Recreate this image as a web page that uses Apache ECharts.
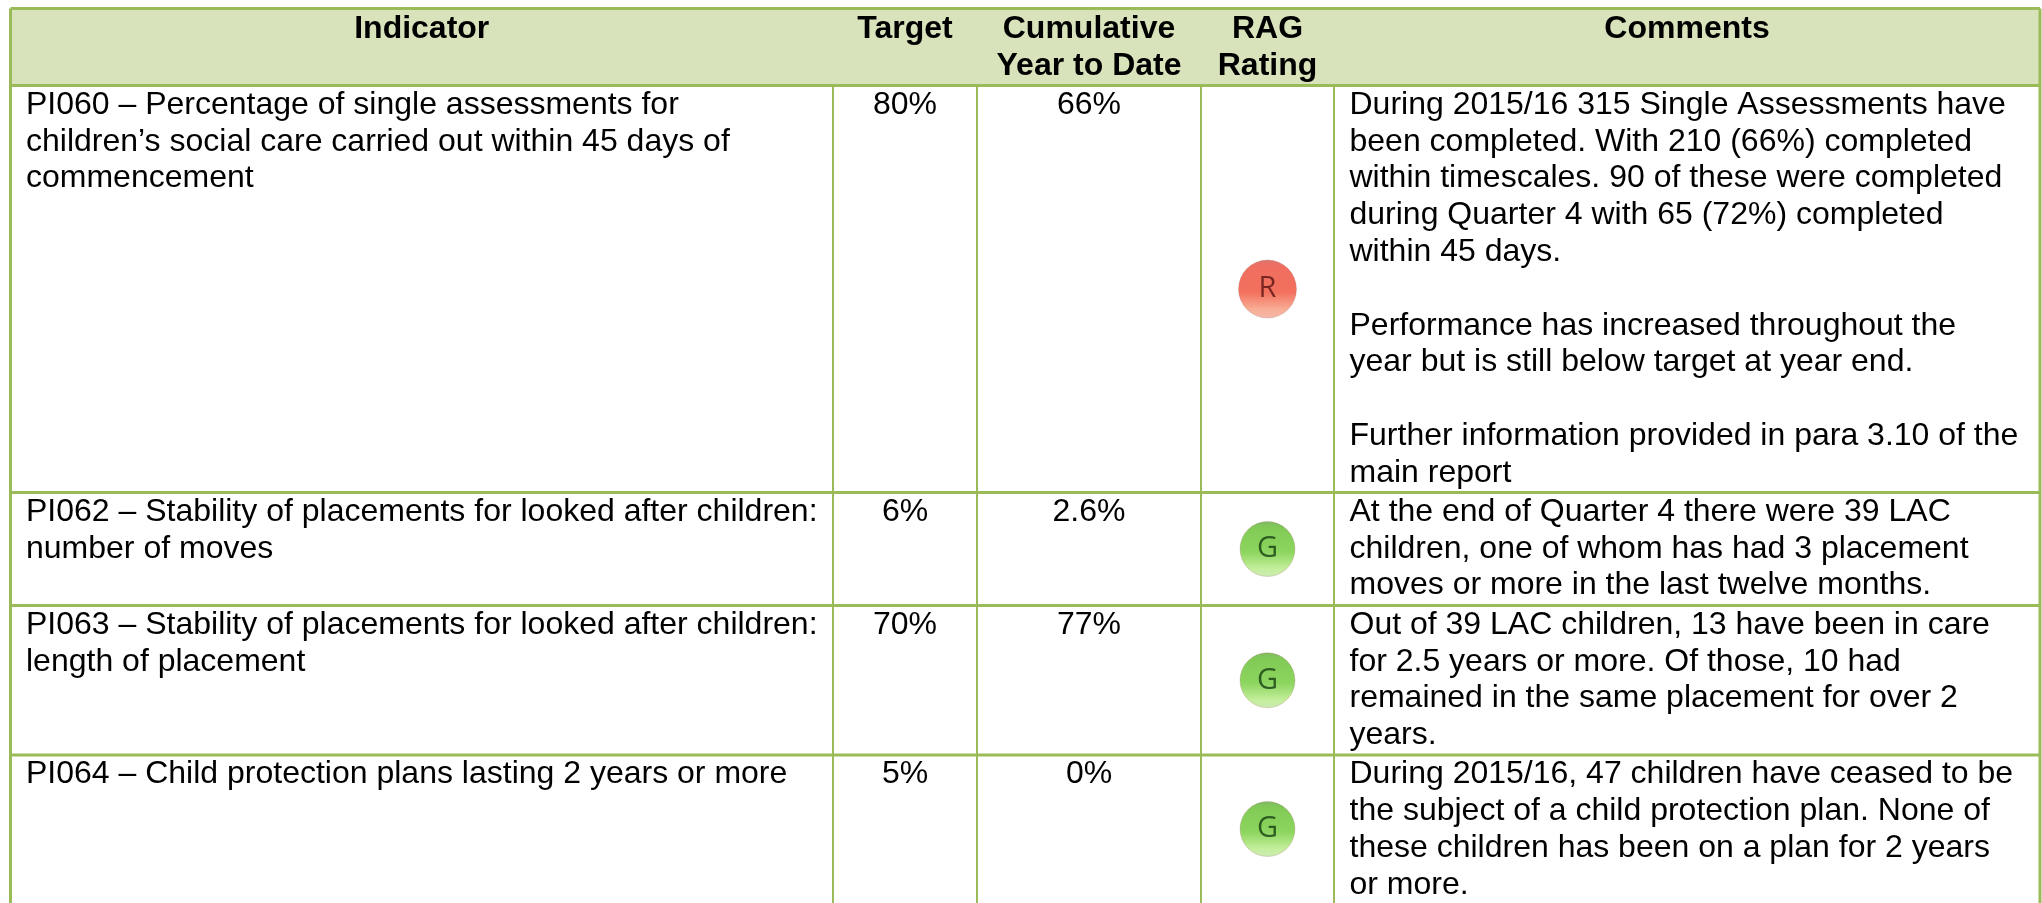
<!DOCTYPE html>
<html>
<head>
<meta charset="utf-8">
<script src="https://cdn.jsdelivr.net/npm/echarts@6/dist/echarts.min.js"></script>
<style>
html, body { margin: 0; padding: 0; background: #fff; }
#main { width: 2042px; height: 903px; }
</style>
</head>
<body>
<div id="main"></div>
<script>
var headers = [
    'Indicator',
    'Target',
    'Cumulative\nYear to Date',
    'RAG\nRating',
    'Comments'
]

var indicators = [
    'PI060 – Percentage of single assessments for\nchildren’s social care carried out within 45 days of\ncommencement',
    'PI062 – Stability of placements for looked after children:\nnumber of moves',
    'PI063 – Stability of placements for looked after children:\nlength of placement',
    'PI064 – Child protection plans lasting 2 years or more'
]

var targets = ['80%', '6%', '70%', '5%']
var cumulative = ['66%', '2.6%', '77%', '0%']
var ratings = ['R', 'G', 'G', 'G']

var comments = [
    'During 2015/16 315 Single Assessments have\nbeen completed. With 210 (66%) completed\nwithin timescales. 90 of these were completed\nduring Quarter 4 with 65 (72%) completed\nwithin 45 days.\n\nPerformance has increased throughout the\nyear but is still below target at year end.\n\nFurther information provided in para 3.10 of the\nmain report',
    'At the end of Quarter 4 there were 39 LAC\nchildren, one of whom has had 3 placement\nmoves or more in the last twelve months.',
    'Out of 39 LAC children, 13 have been in care\nfor 2.5 years or more. Of those, 10 had\nremained in the same placement for over 2\nyears.',
    'During 2015/16, 47 children have ceased to be\nthe subject of a child protection plan. None of\nthese children has been on a plan for 2 years\nor more.'
]

// table layout, in axis units (the axes are 1:1 with the canvas)
var col_edges = [10.5, 833, 977, 1201, 1334, 2040]
var row_edges = [8.5, 85.5, 492.5, 605.5, 755, 903]
var line_height = 36.8
var pad_left = 15.5
var font_name = '"Liberation Sans", Arial, sans-serif'
var border_color = '#9bbb59'

function mid(a, i) {
    return (a[i] + a[i + 1]) / 2
}

// cells of text: x, y, string, alignment
var cells = []
headers.forEach(function(h, c) {
    cells.push({ value: [mid(col_edges, c), row_edges[0] + 2.5], text: h, align: 'center', bold: true })
})
indicators.forEach(function(t, r) {
    var top = row_edges[r + 1] + 1
    cells.push({ value: [col_edges[0] + pad_left, top], text: t, align: 'left' })
    cells.push({ value: [mid(col_edges, 1), top], text: targets[r], align: 'center' })
    cells.push({ value: [mid(col_edges, 2), top], text: cumulative[r], align: 'center' })
    cells.push({ value: [col_edges[4] + pad_left, top], text: comments[r], align: 'left' })
})

// border segments as [x1, y1, x2, y2, width]
var borders = []
row_edges.slice(0, 5).forEach(function(y) {
    borders.push([col_edges[0], y, col_edges[5], y, 3])
})
col_edges.forEach(function(x, i) {
    var outer = i === 0 || i === 5
    borders.push([x, outer ? row_edges[0] : row_edges[1], x, row_edges[5], outer ? 3 : 2])
})

var badge_fill = {
    R: new echarts.graphic.LinearGradient(0, 0, 0, 1, [
        { offset: 0, color: '#d4504a' },
        { offset: 0.12, color: '#ec4a38' },
        { offset: 0.55, color: '#f04c34' },
        { offset: 0.85, color: '#f79a7c' },
        { offset: 1, color: '#f3a894' }
    ]),
    G: new echarts.graphic.LinearGradient(0, 0, 0, 1, [
        { offset: 0, color: '#62a83c' },
        { offset: 0.12, color: '#62bd2c' },
        { offset: 0.55, color: '#6fcb36' },
        { offset: 0.85, color: '#b4ea82' },
        { offset: 1, color: '#bfe6a0' }
    ])
}
var badge_ink = { R: '#5a1414', G: '#173f12' }

var badges = ratings.map(function(r, i) {
    return {
        value: [mid(col_edges, 3), mid(row_edges, i + 1)],
        name: r,
        symbolSize: r === 'R' ? 58 : 55,
        itemStyle: { color: badge_fill[r], borderColor: 'rgba(170,120,110,0.35)', borderWidth: 1 },
        label: { color: badge_ink[r] }
    }
})

var myChart = echarts.init(document.getElementById('main'), null, { renderer: 'canvas' })

var option = {
    animation: false,
    backgroundColor: '#ffffff',
    grid: { left: 0, right: 0, top: 0, bottom: 0 },
    xAxis: { type: 'value', min: 0, max: 2042, show: false },
    yAxis: { type: 'value', min: 0, max: 903, inverse: true, show: false },
    series: [
        {
            type: 'custom',
            name: 'header',
            silent: true,
            z: 1,
            data: [[col_edges[0], row_edges[0], col_edges[5], row_edges[1]]],
            renderItem: function(params, api) {
                var a = api.coord([api.value(0), api.value(1)])
                var b = api.coord([api.value(2), api.value(3)])
                return {
                    type: 'rect',
                    shape: { x: a[0], y: a[1], width: b[0] - a[0], height: b[1] - a[1] },
                    style: { fill: '#d8e3bc' }
                }
            }
        },
        {
            type: 'custom',
            name: 'borders',
            silent: true,
            z: 2,
            data: borders,
            renderItem: function(params, api) {
                var a = api.coord([api.value(0), api.value(1)])
                var b = api.coord([api.value(2), api.value(3)])
                return {
                    type: 'line',
                    shape: { x1: a[0], y1: a[1], x2: b[0], y2: b[1] },
                    style: { stroke: border_color, lineWidth: api.value(4) }
                }
            }
        },
        {
            type: 'custom',
            name: 'cells',
            silent: true,
            z: 3,
            data: cells,
            renderItem: function(params, api) {
                var cell = cells[params.dataIndex]
                var p = api.coord([api.value(0), api.value(1)])
                return {
                    type: 'text',
                    x: p[0],
                    y: p[1],
                    style: {
                        text: cell.text,
                        fill: '#000000',
                        font: (cell.bold ? 'bold ' : '') + '32px ' + font_name,
                        lineHeight: line_height,
                        align: cell.align,
                        verticalAlign: 'top'
                    }
                }
            }
        },
        {
            type: 'scatter',
            name: 'RAG',
            silent: true,
            z: 4,
            symbol: 'circle',
            data: badges,
            label: {
                show: true,
                position: 'inside',
                formatter: '{b}',
                fontFamily: '"Open Sans", sans-serif',
                fontSize: 29
            }
        }
    ]
}

myChart.setOption(option)
</script>
</body>
</html>
